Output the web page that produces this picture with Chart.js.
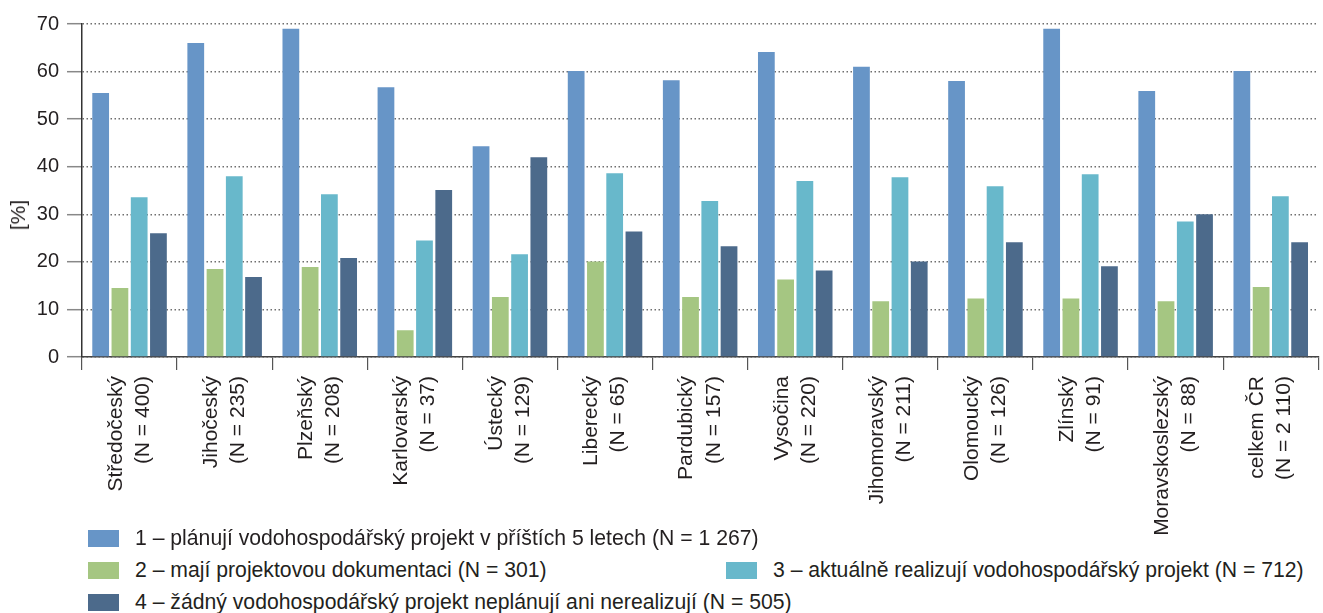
<!DOCTYPE html>
<html>
<head>
<meta charset="utf-8">
<script src="https://cdn.jsdelivr.net/npm/chart.js@4/dist/chart.umd.min.js"></script>
<style>
  html, body { margin: 0; padding: 0; background: #fff; overflow: hidden; }
  body { width: 1323px; height: 613px; position: relative; font-family: "Liberation Sans", Arial, sans-serif; color: #231f20; }
  #wrap { position: absolute; left: 0; top: 0; width: 1331px; height: 545px; }
  #ytitle { position: absolute; left: 18px; top: 215px; transform: translate(-50%, -50%) rotate(-90deg); font-size: 21px; white-space: nowrap; }
  .lg { position: absolute; font-size: 21.2px; white-space: nowrap; line-height: 24px; }
  .lg i { position: absolute; left: 0; top: 0; width: 31px; height: 17px; }
  .lg span { position: absolute; left: 47px; top: -4px; }
</style>
</head>
<body>
<div id="wrap"><canvas id="myChart"></canvas></div>
<div id="ytitle">[%]</div>
<div id="legend"></div>
<script>
const regions = ['Středočeský', 'Jihočeský', 'Plzeňský', 'Karlovarský', 'Ústecký', 'Liberecký', 'Pardubický',
  'Vysočina', 'Jihomoravský', 'Olomoucký', 'Zlínský', 'Moravskoslezský', 'celkem ČR'];
const regionN = ['400', '235', '208', '37', '129', '65', '157', '220', '211', '126', '91', '88', '2 110'];

const planuji = [55.5, 66.0, 69.0, 56.7, 44.3, 60.1, 58.2, 64.1, 61.0, 58.0, 69.0, 55.9, 60.1];
const dokumentace = [14.5, 18.5, 18.9, 5.6, 12.6, 20.1, 12.6, 16.3, 11.7, 12.3, 12.3, 11.7, 14.7];
const realizuji = [33.6, 38.0, 34.2, 24.5, 21.6, 38.6, 32.8, 37.0, 37.8, 35.9, 38.4, 28.5, 33.8];
const zadny = [26.0, 16.8, 20.8, 35.1, 42.0, 26.4, 23.3, 18.2, 20.1, 24.1, 19.1, 30.0, 24.1];

const seriesNames = [
  '1 – plánují vodohospodářský projekt v příštích 5 letech (N = 1 267)',
  '2 – mají projektovou dokumentaci (N = 301)',
  '3 – aktuálně realizují vodohospodářský projekt (N = 712)',
  '4 – žádný vodohospodářský projekt neplánují ani nerealizují (N = 505)'
];
const yTicks = [0, 10, 20, 30, 40, 50, 60, 70];

const colors = ['#6795c7', '#a5c682', '#68b8cb', '#4c6a8b'];
const textColor = '#231f20';

let ctx = document.getElementById('myChart');
let labels = regions.map((r, i) => [r, '(N = ' + regionN[i] + ')']);

var myChart = new Chart(ctx, {
  type: 'bar',
  data: {
    labels: labels,
    datasets: [planuji, dokumentace, realizuji, zadny].map((d, i) => ({
      label: seriesNames[i],
      data: d,
      backgroundColor: colors[i],
      borderWidth: 0,
      categoryPercentage: 0.81,
      barPercentage: 0.87
    }))
  },
  options: {
    responsive: true,
    maintainAspectRatio: false,
    animation: false,
    layout: { padding: { top: 24, right: 2, left: 0, bottom: 0 } },
    plugins: {
      legend: { display: false },
      tooltip: { enabled: false }
    },
    scales: {
      x: {
        afterFit: function (scale) { scale.height = 188; },
        grid: { drawOnChartArea: false, drawTicks: true, tickLength: 13, color: '#555', lineWidth: 1.2 },
        border: { color: '#444', width: 1.5 },
        ticks: {
          autoSkip: false,
          minRotation: 90,
          maxRotation: 90,
          padding: 6,
          labelOffset: -13.5,
          color: textColor,
          font: { family: 'Liberation Sans', size: 21, lineHeight: 1.29 }
        }
      },
      y: {
        min: 0,
        max: 70,
        afterFit: function (scale) { scale.width = 82; },
        afterBuildTicks: function (scale) { scale.ticks = yTicks.map(v => ({ value: v })); },
        grid: {
          color: '#6f6f6f',
          lineWidth: 1.4,
          tickLength: 15,
          tickColor: '#888',
          tickWidth: 1.5,
          tickBorderDash: []
        },
        border: { color: '#333', width: 1.5, dash: [1.5, 2.5] },
        ticks: {
          padding: 8,
          color: textColor,
          font: { family: 'Liberation Sans', size: 20 }
        }
      }
    }
  }
});

// legend built from the chart's datasets
const legendPos = [[88, 530], [88, 562], [726, 562], [88, 594]];
let legend = document.getElementById('legend');
myChart.data.datasets.forEach((ds, i) => {
  let item = document.createElement('div');
  item.className = 'lg';
  item.style.left = legendPos[i][0] + 'px';
  item.style.top = legendPos[i][1] + 'px';
  item.innerHTML = '<i style="background:' + ds.backgroundColor + '"></i><span></span>';
  item.querySelector('span').textContent = ds.label;
  legend.appendChild(item);
});
</script>
</body>
</html>
